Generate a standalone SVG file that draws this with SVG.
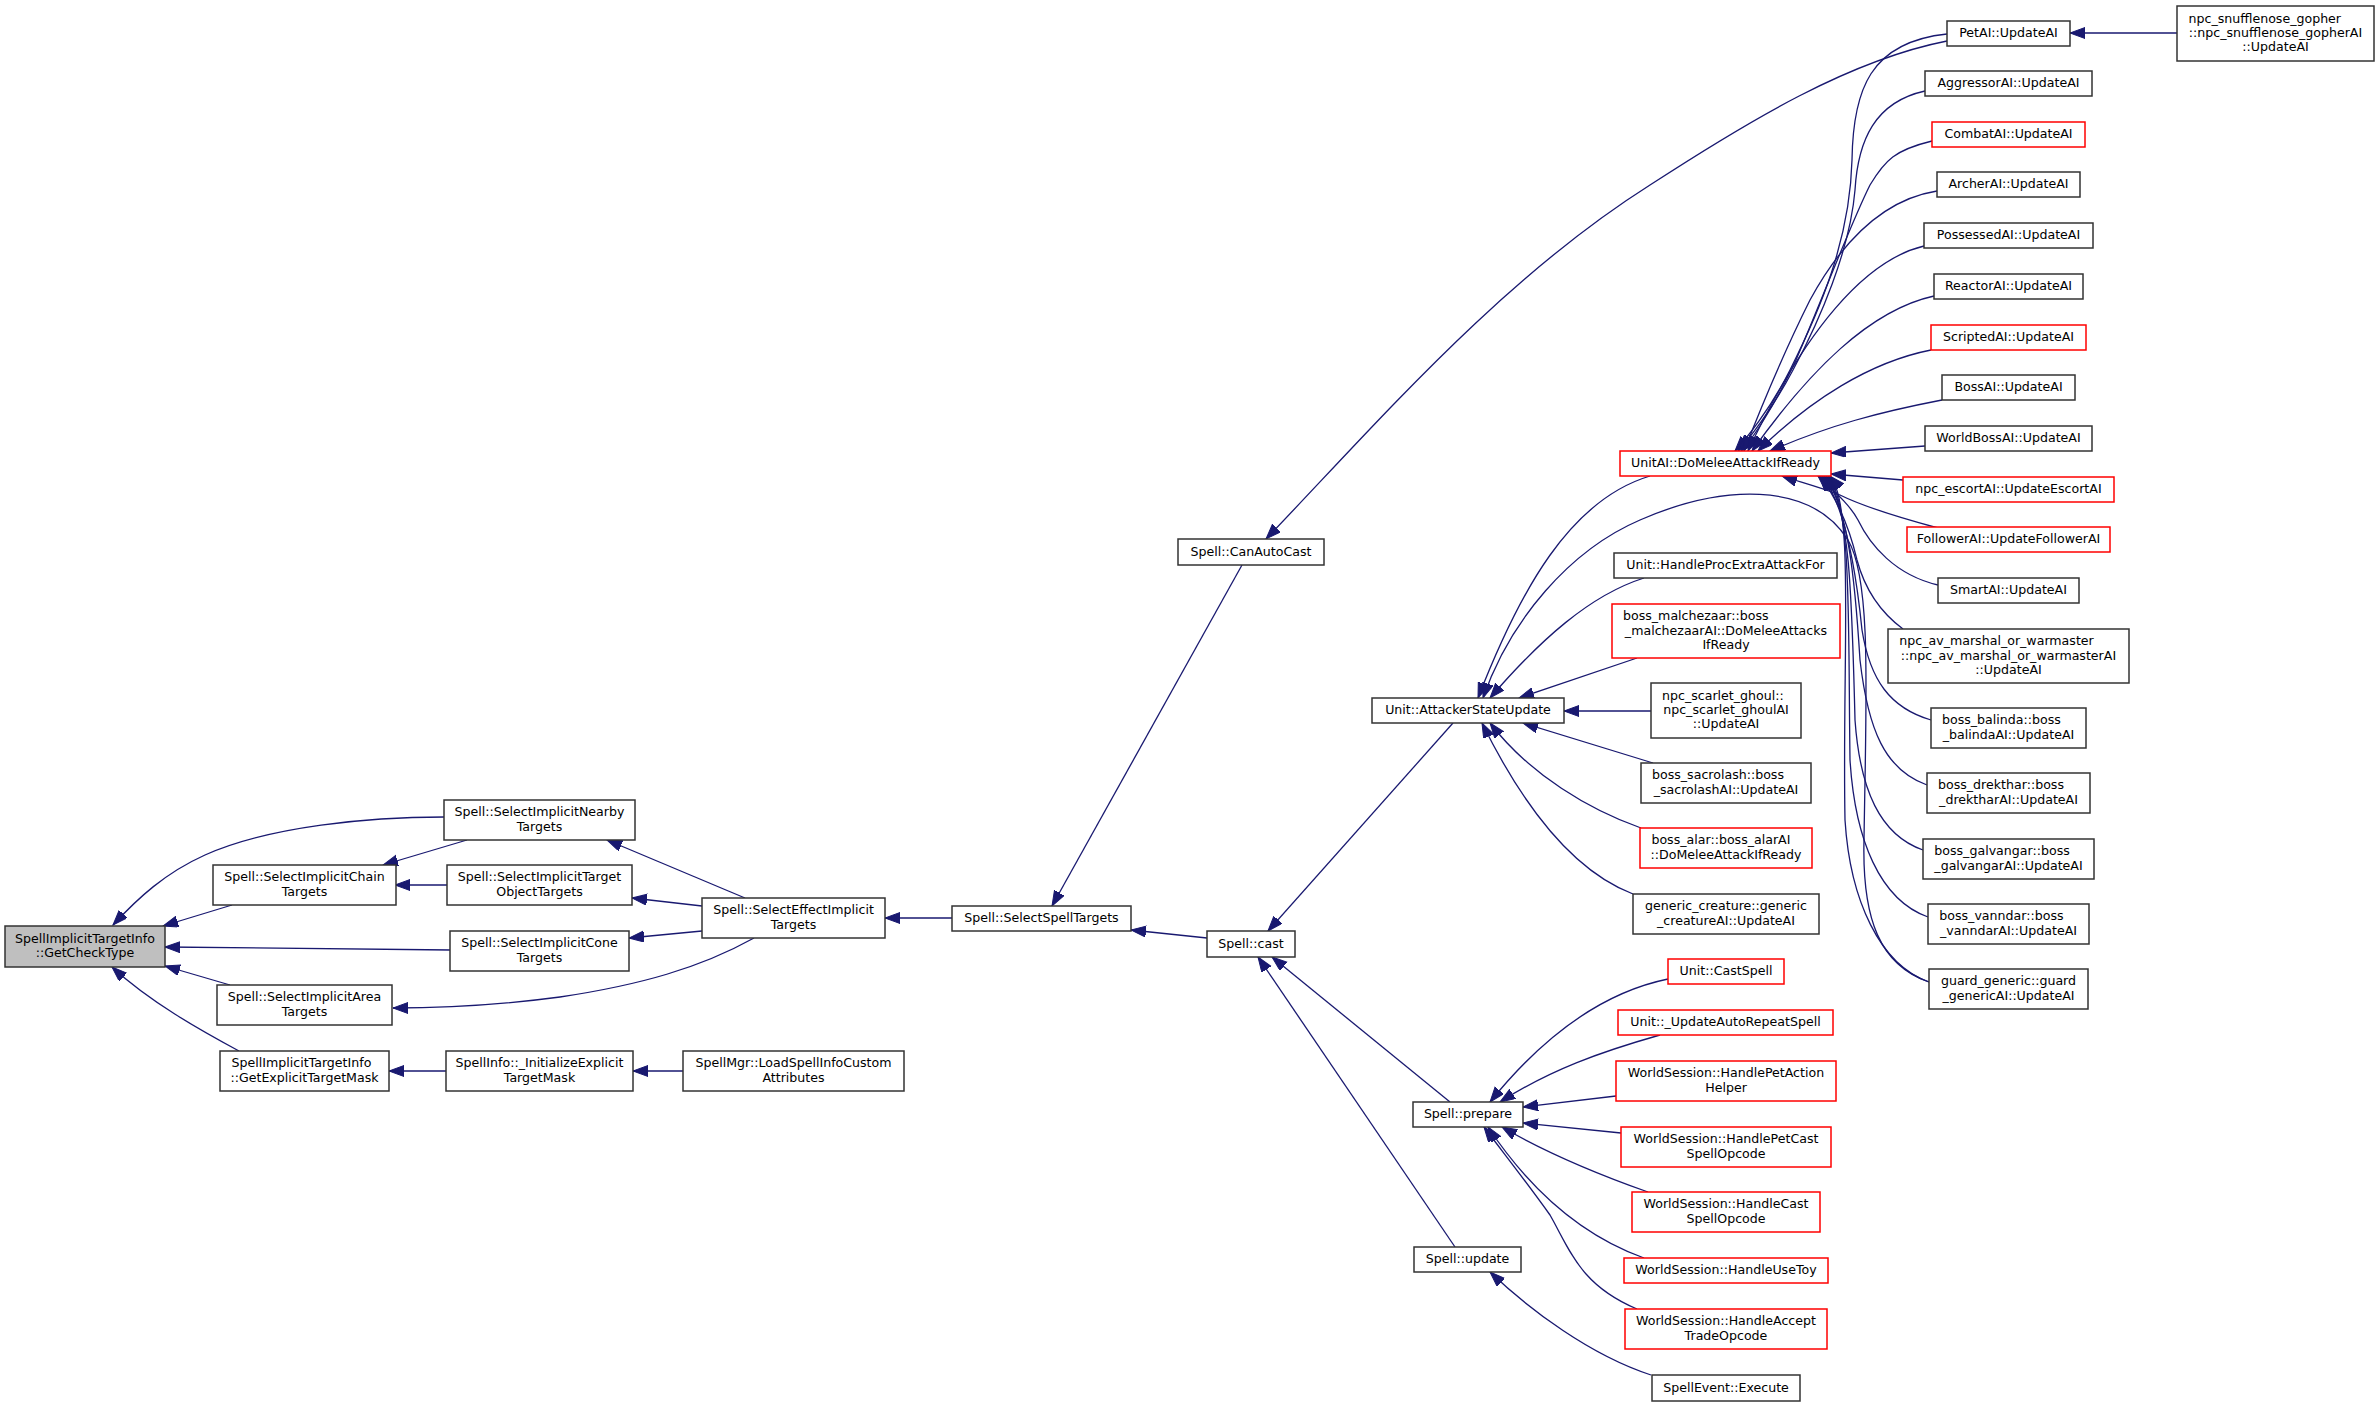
<svg xmlns="http://www.w3.org/2000/svg" width="2380" height="1407" viewBox="0 0 2380 1407">
<defs>
<style>
.n rect{fill:#fff;stroke:#333;stroke-width:1.5}
.n.r rect{stroke:#ff0000}
.n.m rect{fill:#bfbfbf}
.n text{font-family:"DejaVu Sans","Liberation Sans",sans-serif;font-size:12.6px;fill:#000;text-anchor:middle}
.n text.l{text-anchor:start}
#edges path{fill:none;stroke:#191970;stroke-width:1.3;marker-end:url(#ah)}
</style>
<marker id="ah" markerUnits="userSpaceOnUse" markerWidth="16" markerHeight="12" refX="15" refY="5.5" orient="auto">
<path d="M0,0 L15,5.5 L0,11 z" fill="#191970" stroke="#191970" stroke-width="1"/>
</marker>
</defs>
<rect width="2380" height="1407" fill="#fff"/>
<g id="edges">
<path d="M444,817 C370,817 270,826 205,855 C165,873 138,898 113,925"/>
<path d="M467,840 L383,865"/>
<path d="M232,905 L163,926"/>
<path d="M451,950 L165,947"/>
<path d="M230,985 L165,966"/>
<path d="M239,1051 C200,1030 150,1002 112,967"/>
<path d="M447,885 L395,885"/>
<path d="M446,1071 L389,1071"/>
<path d="M745,898 L607,840"/>
<path d="M702,906 L632,898"/>
<path d="M702,931 L629,938"/>
<path d="M754,938 C700,968 640,985 560,997 C500,1005 440,1008 393,1008"/>
<path d="M683,1071 L633,1071"/>
<path d="M952,918 L885,918"/>
<path d="M1242,565 L1052,906"/>
<path d="M1207,938 L1131,930"/>
<path d="M1947,41 C1850,60 1750,120 1650,185 C1500,280 1380,420 1266,539"/>
<path d="M1453,723 L1268,931"/>
<path d="M1450,1102 L1272,957"/>
<path d="M1455,1247 L1258,957"/>
<path d="M1650,476 C1570,500 1520,590 1478,698"/>
<path d="M1929,982 C1880,965 1862,920 1864,840 C1866,700 1872,580 1848,540 C1810,480 1720,485 1640,520 C1570,550 1510,620 1483,698"/>
<path d="M1644,578 C1590,595 1540,640 1490,698"/>
<path d="M1637,658 L1519,698"/>
<path d="M1651,711 L1564,711"/>
<path d="M1653,763 L1523,723"/>
<path d="M1641,828 C1590,810 1530,775 1490,723"/>
<path d="M1633,894 C1570,870 1520,800 1482,723"/>
<path d="M1668,979 C1600,993 1540,1040 1490,1102"/>
<path d="M1660,1035 C1600,1052 1550,1070 1500,1102"/>
<path d="M1616,1096 L1523,1107"/>
<path d="M1621,1133 L1523,1123"/>
<path d="M1648,1192 C1600,1175 1550,1155 1502,1127"/>
<path d="M1644,1258 C1580,1235 1530,1190 1488,1127"/>
<path d="M1637,1309 C1580,1285 1570,1250 1550,1215 C1525,1180 1505,1155 1484,1127"/>
<path d="M1651,1375 C1590,1355 1530,1310 1490,1272"/>
<path d="M2177,33 L2070,33"/>
<path d="M1947,34 C1870,42 1853,90 1852,160 C1850,240 1820,310 1790,370 C1770,410 1745,440 1735,451"/>
<path d="M1925,91 C1875,102 1858,140 1855,190 C1850,250 1820,320 1793,370 C1772,410 1748,440 1738,451"/>
<path d="M1932,141 C1895,150 1885,160 1870,185 C1850,225 1822,300 1796,360 C1775,405 1752,440 1741,451"/>
<path d="M1937,191 C1880,200 1840,245 1810,300 C1785,350 1760,410 1744,451"/>
<path d="M1924,246 C1865,260 1805,330 1748,451"/>
<path d="M1934,296 C1870,310 1810,370 1752,451"/>
<path d="M1931,350 C1870,362 1810,400 1758,451"/>
<path d="M1942,400 C1880,412 1830,425 1770,451"/>
<path d="M1925,446 L1831,453"/>
<path d="M1903,480 L1831,474"/>
<path d="M1938,528 C1890,515 1860,505 1840,495 C1820,487 1800,482 1782,476"/>
<path d="M1938,585 C1895,575 1870,545 1858,520 C1850,505 1835,492 1818,476"/>
<path d="M1903,629 C1880,612 1865,590 1857,560 C1850,530 1838,500 1820,476"/>
<path d="M1931,720 C1890,708 1870,680 1862,630 C1856,570 1845,505 1822,476"/>
<path d="M1927,785 C1885,770 1868,730 1860,660 C1855,580 1848,505 1824,476"/>
<path d="M1923,850 C1880,835 1860,790 1855,720 C1852,600 1850,505 1826,476"/>
<path d="M1928,917 C1880,900 1855,840 1850,760 C1848,620 1852,505 1828,476"/>
<path d="M1929,982 C1880,965 1850,900 1845,820 C1842,660 1855,505 1830,476"/>
</g>
<g id="n_main" class="n m"><rect x="5" y="926" width="160" height="41"/><text x="85" y="943">SpellImplicitTargetInfo</text><text x="85" y="957">::GetCheckType</text></g>
<g id="n_chain" class="n"><rect x="213" y="865" width="183" height="40"/><text x="304.5" y="881.4">Spell::SelectImplicitChain</text><text x="304.5" y="895.7">Targets</text></g>
<g id="n_area" class="n"><rect x="217" y="985" width="175" height="40"/><text x="304.5" y="1001.4">Spell::SelectImplicitArea</text><text x="304.5" y="1015.7">Targets</text></g>
<g id="n_gex" class="n"><rect x="220" y="1051" width="169" height="40"/><text class="l" x="231.5" y="1067.4">SpellImplicitTargetInfo</text><text x="304.5" y="1081.7">::GetExplicitTargetMask</text></g>
<g id="n_nearby" class="n"><rect x="444" y="800" width="191" height="40"/><text x="539.5" y="816.4">Spell::SelectImplicitNearby</text><text x="539.5" y="830.7">Targets</text></g>
<g id="n_tobj" class="n"><rect x="447" y="865" width="185" height="40"/><text x="539.5" y="881.4">Spell::SelectImplicitTarget</text><text x="539.5" y="895.7">ObjectTargets</text></g>
<g id="n_cone" class="n"><rect x="450" y="931" width="179" height="40"/><text x="539.5" y="947.4">Spell::SelectImplicitCone</text><text x="539.5" y="961.7">Targets</text></g>
<g id="n_initexp" class="n"><rect x="446" y="1051" width="187" height="40"/><text x="539.5" y="1067.4">SpellInfo::_InitializeExplicit</text><text x="539.5" y="1081.7">TargetMask</text></g>
<g id="n_effect" class="n"><rect x="702" y="898" width="183" height="40"/><text x="793.5" y="914.4">Spell::SelectEffectImplicit</text><text x="793.5" y="928.7">Targets</text></g>
<g id="n_load" class="n"><rect x="683" y="1051" width="221" height="40"/><text x="793.5" y="1067.4">SpellMgr::LoadSpellInfoCustom</text><text x="793.5" y="1081.7">Attributes</text></g>
<g id="n_sst" class="n"><rect x="952" y="906" width="179" height="25"/><text x="1041.5" y="922">Spell::SelectSpellTargets</text></g>
<g id="n_canauto" class="n"><rect x="1178" y="539" width="146" height="26"/><text x="1251" y="555.5">Spell::CanAutoCast</text></g>
<g id="n_cast" class="n"><rect x="1207" y="931" width="88" height="26"/><text x="1251" y="947.5">Spell::cast</text></g>
<g id="n_asu" class="n"><rect x="1372" y="698" width="192" height="25"/><text x="1468" y="714">Unit::AttackerStateUpdate</text></g>
<g id="n_prepare" class="n"><rect x="1413" y="1102" width="110" height="25"/><text x="1468" y="1118">Spell::prepare</text></g>
<g id="n_update" class="n"><rect x="1414" y="1247" width="107" height="25"/><text x="1467.5" y="1263">Spell::update</text></g>
<g id="n_domelee" class="n r"><rect x="1620" y="451" width="211" height="25"/><text x="1725.5" y="467">UnitAI::DoMeleeAttackIfReady</text></g>
<g id="n_hpeaf" class="n"><rect x="1614" y="553" width="223" height="25"/><text x="1725.5" y="569">Unit::HandleProcExtraAttackFor</text></g>
<g id="n_malch" class="n r"><rect x="1612" y="604" width="228" height="54"/><text class="l" x="1623" y="620.2">boss_malchezaar::boss</text><text x="1726" y="634.5">_malchezaarAI::DoMeleeAttacks</text><text x="1726" y="648.8">IfReady</text></g>
<g id="n_ghoul" class="n"><rect x="1651" y="683" width="150" height="55"/><text class="l" x="1662" y="699.7">npc_scarlet_ghoul::</text><text x="1726" y="714">npc_scarlet_ghoulAI</text><text x="1726" y="728.3">::UpdateAI</text></g>
<g id="n_sacro" class="n"><rect x="1641" y="763" width="170" height="40"/><text class="l" x="1652" y="779.4">boss_sacrolash::boss</text><text x="1726" y="793.7">_sacrolashAI::UpdateAI</text></g>
<g id="n_alar" class="n r"><rect x="1640" y="828" width="172" height="40"/><text class="l" x="1651.4" y="844.4">boss_alar::boss_alarAI</text><text x="1726" y="858.7">::DoMeleeAttackIfReady</text></g>
<g id="n_generic" class="n"><rect x="1633" y="894" width="186" height="40"/><text x="1726" y="910.4">generic_creature::generic</text><text x="1726" y="924.7">_creatureAI::UpdateAI</text></g>
<g id="n_castspell" class="n r"><rect x="1668" y="959" width="116" height="25"/><text x="1726" y="975">Unit::CastSpell</text></g>
<g id="n_autorep" class="n r"><rect x="1618" y="1010" width="215" height="25"/><text x="1725.5" y="1026">Unit::_UpdateAutoRepeatSpell</text></g>
<g id="n_petaction" class="n r"><rect x="1616" y="1061" width="220" height="40"/><text x="1726" y="1077.4">WorldSession::HandlePetAction</text><text x="1726" y="1091.7">Helper</text></g>
<g id="n_petcast" class="n r"><rect x="1621" y="1127" width="210" height="40"/><text x="1726" y="1143.4">WorldSession::HandlePetCast</text><text x="1726" y="1157.7">SpellOpcode</text></g>
<g id="n_hcast" class="n r"><rect x="1632" y="1192" width="188" height="40"/><text x="1726" y="1208.4">WorldSession::HandleCast</text><text x="1726" y="1222.7">SpellOpcode</text></g>
<g id="n_usetoy" class="n r"><rect x="1624" y="1258" width="204" height="25"/><text x="1726" y="1274">WorldSession::HandleUseToy</text></g>
<g id="n_accept" class="n r"><rect x="1625" y="1309" width="202" height="40"/><text x="1726" y="1325.4">WorldSession::HandleAccept</text><text x="1726" y="1339.7">TradeOpcode</text></g>
<g id="n_spellevent" class="n"><rect x="1652" y="1375" width="148" height="26"/><text x="1726" y="1391.5">SpellEvent::Execute</text></g>
<g id="n_petai" class="n"><rect x="1947" y="21" width="123" height="25"/><text x="2008.5" y="37">PetAI::UpdateAI</text></g>
<g id="n_aggr" class="n"><rect x="1925" y="71" width="167" height="25"/><text x="2008.5" y="87">AggressorAI::UpdateAI</text></g>
<g id="n_combat" class="n r"><rect x="1932" y="122" width="153" height="25"/><text x="2008.5" y="138">CombatAI::UpdateAI</text></g>
<g id="n_archer" class="n"><rect x="1937" y="172" width="143" height="25"/><text x="2008.5" y="188">ArcherAI::UpdateAI</text></g>
<g id="n_possessed" class="n"><rect x="1924" y="223" width="169" height="25"/><text x="2008.5" y="239">PossessedAI::UpdateAI</text></g>
<g id="n_reactor" class="n"><rect x="1934" y="274" width="149" height="25"/><text x="2008.5" y="290">ReactorAI::UpdateAI</text></g>
<g id="n_scripted" class="n r"><rect x="1931" y="325" width="155" height="25"/><text x="2008.5" y="341">ScriptedAI::UpdateAI</text></g>
<g id="n_boss" class="n"><rect x="1942" y="375" width="133" height="25"/><text x="2008.5" y="391">BossAI::UpdateAI</text></g>
<g id="n_worldboss" class="n"><rect x="1925" y="426" width="167" height="25"/><text x="2008.5" y="442">WorldBossAI::UpdateAI</text></g>
<g id="n_escort" class="n r"><rect x="1903" y="477" width="211" height="25"/><text x="2008.5" y="493">npc_escortAI::UpdateEscortAI</text></g>
<g id="n_follower" class="n r"><rect x="1907" y="527" width="203" height="25"/><text x="2008.5" y="543">FollowerAI::UpdateFollowerAI</text></g>
<g id="n_smart" class="n"><rect x="1938" y="578" width="141" height="25"/><text x="2008.5" y="594">SmartAI::UpdateAI</text></g>
<g id="n_avmarshal" class="n"><rect x="1888" y="629" width="241" height="54"/><text class="l" x="1899.3" y="645.2">npc_av_marshal_or_warmaster</text><text x="2008.5" y="659.5">::npc_av_marshal_or_warmasterAI</text><text x="2008.5" y="673.8">::UpdateAI</text></g>
<g id="n_balinda" class="n"><rect x="1931" y="708" width="155" height="40"/><text class="l" x="1942" y="724.4">boss_balinda::boss</text><text x="2008.5" y="738.7">_balindaAI::UpdateAI</text></g>
<g id="n_drekthar" class="n"><rect x="1927" y="773" width="163" height="40"/><text class="l" x="1938" y="789.4">boss_drekthar::boss</text><text x="2008.5" y="803.7">_drektharAI::UpdateAI</text></g>
<g id="n_galvangar" class="n"><rect x="1923" y="839" width="171" height="40"/><text class="l" x="1934.3" y="855.4">boss_galvangar::boss</text><text x="2008.5" y="869.7">_galvangarAI::UpdateAI</text></g>
<g id="n_vanndar" class="n"><rect x="1928" y="904" width="161" height="40"/><text class="l" x="1939.3" y="920.4">boss_vanndar::boss</text><text x="2008.5" y="934.7">_vanndarAI::UpdateAI</text></g>
<g id="n_guard" class="n"><rect x="1929" y="969" width="159" height="40"/><text x="2008.5" y="985.4">guard_generic::guard</text><text x="2008.5" y="999.7">_genericAI::UpdateAI</text></g>
<g id="n_snuffle" class="n"><rect x="2177" y="6" width="197" height="55"/><text class="l" x="2188.5" y="22.7">npc_snufflenose_gopher</text><text x="2275.5" y="37">::npc_snufflenose_gopherAI</text><text x="2275.5" y="51.3">::UpdateAI</text></g>
</svg>
